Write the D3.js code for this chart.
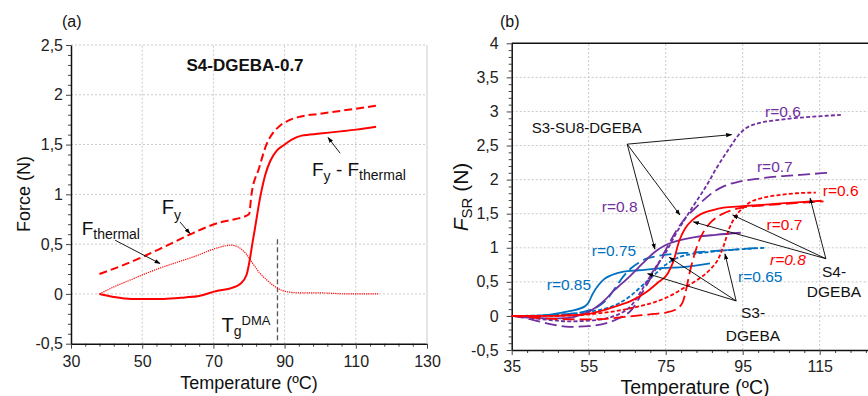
<!DOCTYPE html>
<html>
<head>
<meta charset="utf-8">
<script src="https://cdn.jsdelivr.net/npm/d3@7"></script>
<style>
  body { margin: 0; background: #fff; }
  svg { display: block; font-family: "Liberation Sans", Arial, sans-serif; }
</style>
</head>
<body>
<svg id="chart" width="868" height="396"></svg>
<script>
// ---------- Panel (a): S4-DGEBA-0.7 force components ----------
const aTicksX = [30, 50, 70, 90, 110, 130];
const aTicksY = [-0.5, 0, 0.5, 1, 1.5, 2, 2.5];
// [temperature ºC, force N]
const aFy = [[38,0.2],[44,0.28],[50,0.37],[56,0.47],[63,0.59],[68,0.67],[72,0.72],[76,0.75],[80,0.8],
  [80.7,1.0],[82.8,1.26],[85,1.51],[86.8,1.62],[88.7,1.69],[91,1.74],[94.3,1.78],[100,1.81],[104,1.83],[110,1.86],[115.7,1.89]];
const aFnet = [[38,0],[42,-0.03],[47,-0.05],[52,-0.05],[56,-0.05],[62,-0.035],[66,-0.02],[70.9,0.03],[74.7,0.055],
  [77.5,0.1],[79.3,0.19],[81.3,0.58],[83.3,1.0],[84.6,1.2],[85.9,1.33],[87.8,1.44],[89.6,1.49],[92,1.55],[94.8,1.59],
  [100,1.61],[105,1.63],[110,1.65],[115.7,1.68]];
const aFthermal = [[38,0],[42,0.07],[46,0.13],[50,0.19],[55,0.26],[60,0.32],[65,0.38],[70,0.45],[73,0.48],[75,0.49],
  [77,0.47],[79,0.41],[81,0.31],[83,0.21],[85,0.14],[87,0.08],[89,0.04],[91,0.02],[95,0.01],[100,0.01],[108,0.0],[116.3,0.0]];
const aTg = 88;            // glass transition from DMA (ºC)
const aTgTop = 0.55;       // upper end of the Tg marker (N)

// ---------- Panel (b): F_SR for the three systems ----------
const bTicksX = [35, 55, 75, 95, 115];
const bTicksY = [-0.5, 0, 0.5, 1, 1.5, 2, 2.5, 3, 3.5, 4];
// S3-SU8-DGEBA
const su8R06 = [[35,0],[40,-0.03],[45,-0.06],[50,-0.08],[55,-0.07],[60,-0.03],[63,0.03],[66,0.15],[69,0.4],[72,0.68],
  [75,0.93],[78,1.24],[80,1.42],[82,1.6],[84,1.77],[86,1.95],[88,2.15],[90,2.33],[92,2.5],[94,2.66],[96,2.76],[98,2.81],
  [100,2.84],[105,2.88],[110,2.91],[115,2.93],[120.5,2.95]];
const su8R07 = [[35,0],[40,-0.05],[45,-0.12],[50,-0.16],[55,-0.15],[60,-0.1],[63,-0.03],[66,0.08],[69,0.35],[72,0.65],
  [75,0.97],[78,1.27],[80,1.43],[83,1.6],[86.5,1.78],[90,1.9],[94,1.97],[100,2.02],[105,2.05],[110,2.07],[117,2.1]];
const su8R08 = [[35,0],[40,-0.02],[45,-0.04],[50,-0.03],[53,0.02],[55,0.06],[57,0.13],[59.5,0.25],[61.5,0.37],[63.5,0.47],
  [66,0.6],[69,0.77],[72,0.93],[75,1.04],[78,1.1],[83,1.16],[88,1.19],[94.5,1.22]];
// S4-DGEBA
const s4R06 = [[35,0],[45,0.0],[52,0.01],[58,0.04],[63,0.08],[68,0.14],[72,0.2],[76,0.29],[80,0.42],[83,0.52],[86.5,0.68],
  [88.5,0.82],[90,1.02],[91.5,1.28],[93,1.45],[95,1.58],[97,1.67],[100,1.73],[104,1.77],[109,1.8],[114,1.81]];
const s4R07 = [[35,0],[40,-0.02],[45,-0.04],[50,-0.05],[56,-0.05],[62,-0.03],[67,0.0],[72,0.03],[75,0.05],[77.5,0.09],
  [79.4,0.2],[81.5,0.7],[83.5,1.08],[85,1.25],[87,1.39],[89.5,1.49],[92,1.55],[95,1.59],[100,1.62],[105,1.64],[110,1.66],[116,1.68]];
const s4R08 = [[35,0],[45,0.0],[50,0.01],[55,0.03],[58,0.07],[62,0.14],[66,0.22],[70,0.35],[73,0.49],[75.5,0.62],[77,0.8],
  [78.5,1.1],[80,1.28],[82,1.41],[84,1.49],[87,1.55],[90,1.59],[95,1.61],[100,1.63],[105,1.65],[110,1.67],[115.5,1.69]];
// S3-DGEBA
const s3R065 = [[35,0],[45,0.01],[50,0.03],[55,0.06],[60,0.12],[63,0.19],[66,0.3],[69,0.45],[72,0.6],[75,0.75],[78,0.85],
  [81,0.9],[85,0.93],[90,0.96],[95,0.98],[101,1.0]];
const s3R075 = [[35,0],[40,0.0],[45,0.01],[50,0.03],[55,0.08],[58,0.16],[60,0.26],[62,0.42],[64,0.58],[66,0.7],[68,0.78],
  [70,0.84],[73,0.88],[77,0.91],[82,0.93],[87,0.95],[92,0.97],[97,0.99],[100,1.0]];
const s3R085 = [[35,0],[40,0.0],[45,0.02],[50,0.07],[54,0.14],[55,0.2],[56,0.32],[57.5,0.45],[59,0.54],[61,0.6],[64,0.65],
  [68,0.67],[74,0.7],[80,0.72],[86.5,0.77]];

const RED = "#ff0000", PURPLE = "#7030a0", BLUE = "#0070c0";
const GRID = "#c9c9c9";
const fmt = d => String(d).replace(".", ",");

const svg = d3.select("#chart");

// arrowhead shared by all annotation leaders
svg.append("defs").append("marker")
  .attr("id", "arrow").attr("viewBox", "0 0 10 10").attr("refX", 9).attr("refY", 5)
  .attr("markerWidth", 6).attr("markerHeight", 6).attr("markerUnits", "userSpaceOnUse")
  .attr("orient", "auto")
  .append("path").attr("d", "M0,1.5 L10,5 L0,8.5 Z").attr("fill", "#000");

function drawFrame(g, x, y, o) {
  const [x0, x1] = x.range(), [y0, y1] = y.range();
  // dotted grid
  g.append("g").selectAll("line").data(o.gridX).join("line")
    .attr("x1", d => x(d)).attr("x2", d => x(d)).attr("y1", y0).attr("y2", y1)
    .attr("stroke", GRID).attr("stroke-dasharray", "2,2");
  g.append("g").selectAll("line").data(o.gridY).join("line")
    .attr("x1", x0).attr("x2", x1).attr("y1", d => y(d)).attr("y2", d => y(d))
    .attr("stroke", GRID).attr("stroke-dasharray", "2,2");
  // minor ticks
  g.append("g").attr("transform", `translate(0,${y0})`)
    .call(d3.axisBottom(x).tickValues(o.minorX).tickSize(3).tickFormat(""))
    .call(s => s.select(".domain").remove());
  g.append("g").attr("transform", `translate(${x0},0)`)
    .call(d3.axisLeft(y).tickValues(o.minorY).tickSize(3).tickFormat(""))
    .call(s => s.select(".domain").remove());
  // major axes
  const ax = g.append("g").attr("transform", `translate(0,${y0})`)
    .call(d3.axisBottom(x).tickValues(o.ticksX).tickSize(5).tickPadding(o.padX).tickSizeOuter(0).tickFormat(fmt));
  const ay = g.append("g").attr("transform", `translate(${x0},0)`)
    .call(d3.axisLeft(y).tickValues(o.ticksY).tickSize(5).tickPadding(o.padY).tickSizeOuter(0).tickFormat(fmt));
  [ax, ay].forEach(a => {
    a.selectAll("text").attr("font-size", o.fs).attr("fill", "#222").attr("font-family", "Liberation Sans, Arial, sans-serif");
    a.selectAll("line").attr("stroke", "#222");
    a.select(".domain").attr("stroke", "#111").attr("stroke-width", 1.5);
  });
  g.selectAll(".tick line").attr("stroke", "#444");
}

function series(g, x, y, data, color, dash, width) {
  g.append("path").datum(data)
    .attr("d", d3.line().x(d => x(d[0])).y(d => y(d[1])).curve(d3.curveMonotoneX))
    .attr("fill", "none").attr("stroke", color).attr("stroke-width", width)
    .attr("stroke-dasharray", dash).attr("stroke-linejoin", "round");
}

function leader(g, x, y, from, to) {
  g.append("line")
    .attr("x1", x(from[0])).attr("y1", y(from[1])).attr("x2", x(to[0])).attr("y2", y(to[1]))
    .attr("stroke", "#000").attr("stroke-width", 0.9).attr("marker-end", "url(#arrow)");
}

// ===================== Panel (a) =====================
const xA = d3.scaleLinear().domain([30, 130]).range([71, 427]);
const yA = d3.scaleLinear().domain([-0.5, 2.5]).range([343.7, 45]);
const gA = svg.append("g");

drawFrame(gA, xA, yA, {
  gridX: [50, 70, 90, 110], gridY: [0, 0.5, 1, 1.5, 2, 2.5],
  minorX: d3.range(34, 130, 4).filter(v => (v - 30) % 20 !== 0),
  minorY: d3.range(-4, 25).map(v => v / 10).filter(v => Math.abs(v * 2 - Math.round(v * 2)) > 1e-6),
  ticksX: aTicksX, ticksY: aTicksY, padX: 7, padY: 3, fs: 16
});
// right frame edge
gA.append("line").attr("x1", 427).attr("x2", 427).attr("y1", 45).attr("y2", 343.7)
  .attr("stroke", "#d4d4d4").attr("stroke-width", 1.2);

// Tg (DMA) marker
gA.append("line").attr("x1", xA(aTg)).attr("x2", xA(aTg)).attr("y1", yA(aTgTop)).attr("y2", yA(-0.5))
  .attr("stroke", "#555").attr("stroke-width", 1.3).attr("stroke-dasharray", "5,3");

series(gA, xA, yA, aFthermal, RED, "1.2,1", 1.2);
series(gA, xA, yA, aFy, RED, "8,4", 2);
series(gA, xA, yA, aFnet, RED, null, 2);

leader(gA, xA, yA, [105.6, 1.413], [102.2, 1.571]);
leader(gA, xA, yA, [60.6, 0.723], [63.4, 0.606]);
leader(gA, xA, yA, [42.4, 0.539], [55, 0.305]);

const txt = (g, xp, yp, size, fill) => g.append("text").attr("x", xp).attr("y", yp)
  .attr("font-size", size).attr("fill", fill || "#111");

// labels
txt(gA, 245, 71, 17).attr("text-anchor", "middle").attr("font-weight", "bold").text("S4-DGEBA-0.7");
txt(gA, 62, 27, 16).text("(a)");
{
  const t = txt(gA, xA(97.7), yA(1.185), 19);
  t.append("tspan").text("F");
  t.append("tspan").attr("font-size", 14).attr("dy", 5).text("y");
  t.append("tspan").attr("dy", -5).text(" - F");
  t.append("tspan").attr("font-size", 14).attr("dy", 4).text("thermal");
}
{
  const t = txt(gA, xA(55.5), yA(0.80), 20);
  t.append("tspan").text("F");
  t.append("tspan").attr("font-size", 14).attr("dy", 6).text("y");
}
{
  const t = txt(gA, xA(33), yA(0.59), 19);
  t.append("tspan").text("F");
  t.append("tspan").attr("font-size", 14).attr("dy", 4).text("thermal");
}
{
  const t = txt(gA, xA(72.3), yA(-0.38), 20);
  t.append("tspan").text("T");
  t.append("tspan").attr("font-size", 14).attr("dy", 4).text("g");
  t.append("tspan").attr("font-size", 13).attr("dy", -11).text("DMA");
}
txt(gA, 249, 389, 18).attr("text-anchor", "middle").text("Temperature (ºC)");
txt(gA, 0, 0, 18).attr("text-anchor", "middle").attr("transform", "translate(30,194) rotate(-90)").text("Force (N)");

// ===================== Panel (b) =====================
const xB = d3.scaleLinear().domain([35, 135]).range([511.7, 896.7]);
const yB = d3.scaleLinear().domain([-0.5, 4]).range([350, 43.3]);
const gB = svg.append("g");

drawFrame(gB, xB, yB, {
  gridX: [55, 75, 95, 115], gridY: [0, 0.5, 1, 1.5, 2, 2.5, 3, 3.5],
  minorX: d3.range(39, 135, 4).filter(v => (v - 35) % 20 !== 0),
  minorY: d3.range(-4, 40).map(v => v / 10).filter(v => Math.abs(v * 2 - Math.round(v * 2)) > 1e-6),
  ticksX: bTicksX, ticksY: bTicksY, padX: 5.5, padY: 8, fs: 16
});
// top frame edge
gB.append("line").attr("x1", 511.7).attr("x2", 896.7).attr("y1", yB(4)).attr("y2", yB(4))
  .attr("stroke", "#111").attr("stroke-width", 1.5);

const SHORT = "4,2.2", LONG = "12,5";
series(gB, xB, yB, s3R065, BLUE, SHORT, 1.8);
series(gB, xB, yB, s3R075, BLUE, LONG, 1.8);
series(gB, xB, yB, s3R085, BLUE, null, 1.8);
series(gB, xB, yB, su8R06, PURPLE, SHORT, 1.8);
series(gB, xB, yB, su8R07, PURPLE, LONG, 1.8);
series(gB, xB, yB, su8R08, PURPLE, null, 1.8);
series(gB, xB, yB, s4R06, RED, SHORT, 1.8);
series(gB, xB, yB, s4R07, RED, LONG, 1.8);
series(gB, xB, yB, s4R08, RED, null, 1.8);

// leaders from the system names to their curves
const su8From = [65.0, 2.52], s4From = [116.6, 0.84], s3From = [93.3, 0.22];
[[92.1, 2.66], [78.7, 1.48], [72.2, 0.98]].forEach(p => leader(gB, xB, yB, su8From, p));
[[112.5, 1.73], [92.4, 1.48], [82.2, 1.38]].forEach(p => leader(gB, xB, yB, s4From, p));
[[90.4, 0.91], [75.9, 0.86], [70.3, 0.62]].forEach(p => leader(gB, xB, yB, s3From, p));

txt(gB, xB(40.2), yB(2.685), 15).text("S3-SU8-DGEBA");
txt(gB, 834, 277, 15.5).attr("text-anchor", "middle").text("S4-");
txt(gB, 834, 297, 15.5).attr("text-anchor", "middle").text("DGEBA");
txt(gB, 753, 318, 15.5).attr("text-anchor", "middle").text("S3-");
txt(gB, 753, 341, 15.5).attr("text-anchor", "middle").text("DGEBA");

const rLabels = [
  ["r=0.6", 100.8, 2.92, PURPLE, false],
  ["r=0.7", 98.7, 2.11, PURPLE, false],
  ["r=0.8", 58.4, 1.53, PURPLE, false],
  ["r=0.6", 115.8, 1.76, RED, false],
  ["r=0.7", 101.2, 1.26, RED, false],
  ["r=0.8", 102.1, 0.75, RED, true],
  ["r=0.65", 93.8, 0.50, BLUE, false],
  ["r=0.75", 55.8, 0.88, BLUE, false],
  ["r=0.85", 44.1, 0.38, BLUE, false]
];
rLabels.forEach(([s, t, v, c, it]) => {
  txt(gB, xB(t), yB(v), 15.5, c).attr("font-style", it ? "italic" : null).text(s);
});

txt(gB, 500, 27, 16).text("(b)");
txt(gB, 695, 393.5, 19.5).attr("text-anchor", "middle").text("Temperature (ºC)");
{
  const t = txt(gB, 0, 0, 21).attr("text-anchor", "middle").attr("transform", "translate(468,197) rotate(-90)");
  t.append("tspan").attr("font-style", "italic").text("F");
  t.append("tspan").attr("font-size", 15).attr("dy", 4).text("SR");
  t.append("tspan").attr("dy", -4).text(" (N)");
}
</script>
</body>
</html>
